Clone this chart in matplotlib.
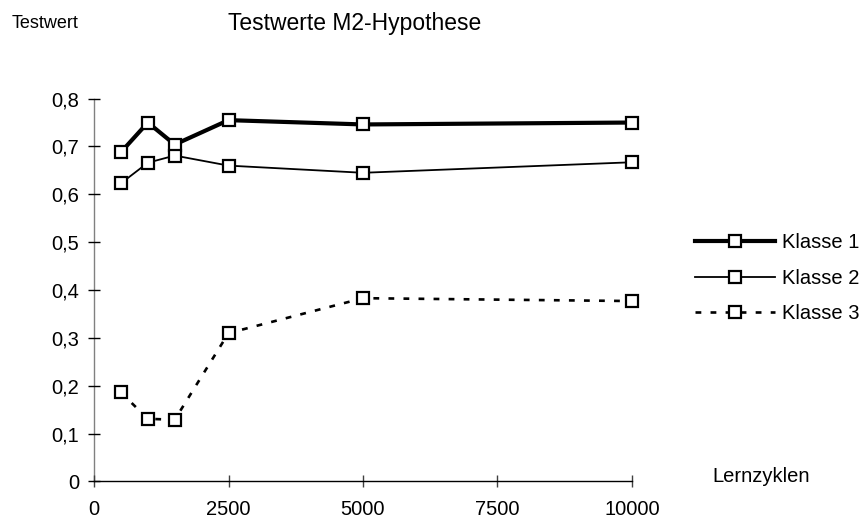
import matplotlib
matplotlib.use("Agg")
import matplotlib.pyplot as plt

plt.rcParams['font.family'] = ['Liberation Sans', 'DejaVu Sans']

# Lernzyklen und Testwerte je Klasse
zyklen = [500, 1000, 1500, 2500, 5000, 10000]
klasse1 = [0.688, 0.750, 0.704, 0.755, 0.746, 0.750]
klasse2 = [0.623, 0.666, 0.681, 0.660, 0.645, 0.667]
klasse3 = [0.186, 0.131, 0.129, 0.310, 0.383, 0.377]

xticks = [0, 2500, 5000, 7500, 10000]
yticks = [0, 0.1, 0.2, 0.3, 0.4, 0.5, 0.6, 0.7, 0.8]
ylabels = ['0', '0,1', '0,2', '0,3', '0,4', '0,5', '0,6', '0,7', '0,8']

fig = plt.figure(figsize=(8.61, 5.22), dpi=100)
ax = fig.add_axes([0.1092, 0.0776, 0.6248, 0.7335])

mk = dict(marker='s', markersize=9, markerfacecolor='white',
          markeredgecolor='black', markeredgewidth=1.6, color='black')
ax.plot(zyklen, klasse1, lw=3.0, label='Klasse 1', **mk)
ax.plot(zyklen, klasse2, lw=1.3, label='Klasse 2', **mk)
ax.plot(zyklen, klasse3, lw=1.9, linestyle=(0, (2.2, 3.5)), label='Klasse 3', **mk)

ax.set_xlim(0, 10000)
ax.set_ylim(0, 0.8)
ax.set_xticks(xticks)
ax.set_xticklabels([str(v) for v in xticks])
ax.set_yticks(yticks)
ax.set_yticklabels(ylabels)

for s in ['top', 'right']:
    ax.spines[s].set_visible(False)
ax.spines['left'].set_color('#808080')
ax.spines['left'].set_linewidth(1.0)
ax.spines['bottom'].set_color('black')
ax.spines['bottom'].set_linewidth(1.0)
ax.spines['left'].set_zorder(0)

ax.tick_params(axis='y', direction='inout', length=9, width=1.0,
               color='black', labelsize=14.5, pad=6)
ax.tick_params(axis='x', direction='inout', length=9, width=1.0,
               color='#404040', labelsize=14.5, pad=9)

for line in ax.lines:
    line.set_clip_on(False)

fig.text(0.412, 0.955, 'Testwerte M2-Hypothese', fontsize=16.5,
         ha='center', va='center')
fig.text(0.0136, 0.955, 'Testwert', fontsize=13, ha='left', va='center')
fig.text(0.827, 0.087, 'Lernzyklen', fontsize=14.5, ha='left', va='center')

fig.legend(loc='center left', bbox_to_anchor=(0.807, 0.467), frameon=False,
           fontsize=14.5, handlelength=4.0, handletextpad=0.35,
           labelspacing=0.82, borderpad=0, borderaxespad=0)

fig.savefig('out.png', dpi=100, facecolor='white')
